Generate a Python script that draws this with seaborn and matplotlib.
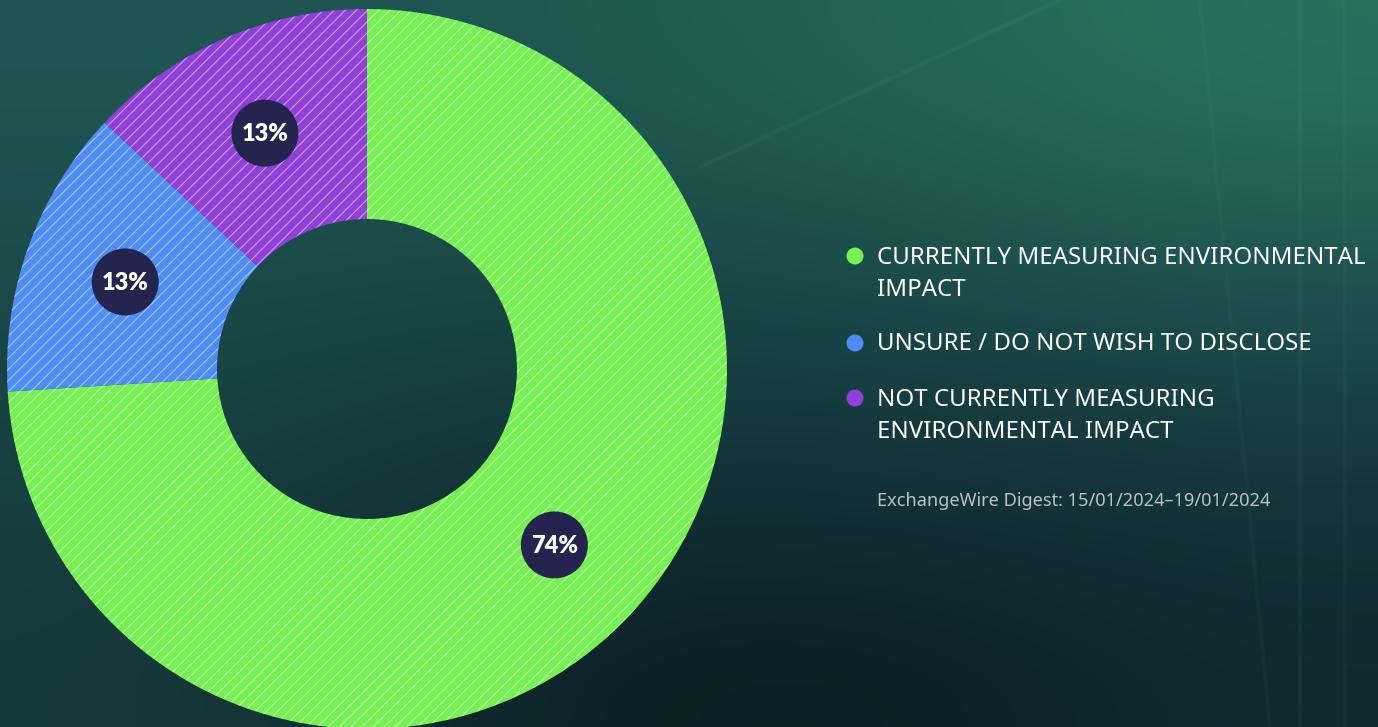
import numpy as np
import matplotlib
matplotlib.use("Agg")
import matplotlib.pyplot as plt
import seaborn as sns
from matplotlib.colors import to_rgb
from matplotlib.patches import Circle

sns.set_style("white")
plt.rcParams["font.family"] = ["Noto Sans", "DejaVu Sans"]
plt.rcParams["hatch.linewidth"] = 0.8

# Survey shares
categories = [
    "CURRENTLY MEASURING ENVIRONMENTAL\nIMPACT",
    "UNSURE / DO NOT WISH TO DISCLOSE",
    "NOT CURRENTLY MEASURING\nENVIRONMENTAL IMPACT",
]
shares = [74, 13, 13]
share_labels = ["74%", "13%", "13%"]
colors = ["#76f053", "#4f8df6", "#9040d9"]
source = "ExchangeWire Digest: 15/01/2024\u201319/01/2024"

W, H = 1378, 727
fig = plt.figure(figsize=(W / 100, H / 100), dpi=100)
ax = fig.add_axes([0, 0, 1, 1])

# Background: soft teal gradient
grid = [
    ["#1f5552", "#1e5652", "#236352", "#2b725f"],
    ["#1b4c4a", "#194746", "#1a4a49", "#1e5452"],
    ["#174141", "#133638", "#13343a", "#16393d"],
    ["#163b3c", "#0d2228", "#0c1d24", "#10292f"],
]
bg = np.array([[to_rgb(c) for c in row] for row in grid])
ax.imshow(bg, extent=[0, W, 0, H], interpolation="bicubic", aspect="auto", zorder=0)

# Faint light streaks
for x0, y0, x1, y1, a in [(700, 560, 1060, 727, 0.05),
                          (1300, 0, 1300, 727, 0.05),
                          (1345, 0, 1345, 727, 0.04),
                          (1270, 0, 1200, 727, 0.035)]:
    ax.plot([x0, x1], [y0, y1], color="#7fe0c0", alpha=a, lw=3, zorder=0.5)

cx, cy = 367, H - 369
R, r_in = 360, 150

wedges, _ = ax.pie(
    shares,
    colors=colors,
    startangle=90,
    counterclock=False,
    center=(cx, cy),
    radius=R,
    wedgeprops=dict(width=R - r_in, linewidth=0, edgecolor=(1, 1, 1, 0.5)),
    frame=True,
)
for w in wedges:
    w.set_hatch("///")
    w.set_zorder(2)

# Value badges at wedge centres
r_mid = (R + r_in) / 2 + 2
for w, lab in zip(wedges, share_labels):
    ang = np.deg2rad((w.theta1 + w.theta2) / 2)
    bx, by = cx + r_mid * np.cos(ang), cy + r_mid * np.sin(ang)
    ax.add_patch(Circle((bx, by), 33.5, facecolor="#25244f", edgecolor="none", zorder=3))
    ax.text(bx, by - 1, lab, ha="center", va="center", color="white",
            fontsize=17, fontweight="heavy", family=["Lato", "DejaVu Sans"], zorder=4)

# Legend
legend_y = [H - 256, H - 343, H - 398]
for yy, lab, col in zip(legend_y, categories, colors):
    ax.add_patch(Circle((855, yy), 8.5, facecolor=col, edgecolor="none", zorder=3))
    ax.text(877, yy + 10.5, lab, ha="left", va="top", color="white", fontsize=17.3,
            linespacing=1.45, zorder=4)

ax.text(877, H - 501, source, ha="left", va="center", color="#b9c3c7", fontsize=13.1, zorder=4)

ax.set_xlim(0, W)
ax.set_ylim(0, H)
ax.set_aspect("auto")
ax.axis("off")

fig.savefig("out.png", dpi=100)
